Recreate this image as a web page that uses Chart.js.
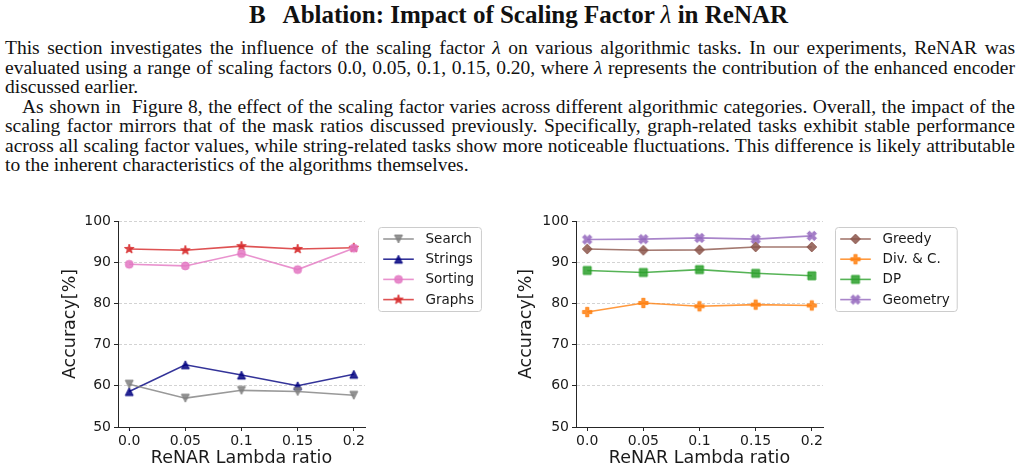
<!DOCTYPE html>
<html><head><meta charset="utf-8">
<script src="https://cdn.jsdelivr.net/npm/chart.js@4.4.1/dist/chart.umd.min.js"></script>
<style>
html,body{margin:0;padding:0;background:#fff;}
body{width:1021px;height:471px;position:relative;overflow:hidden;font-family:"Liberation Serif","Times New Roman",serif;color:#111;}
.title{position:absolute;left:0;top:0px;width:1021px;text-align:center;font-weight:bold;font-size:25px;line-height:30px;padding-left:16px;box-sizing:border-box;white-space:nowrap}
.ln{position:absolute;left:5px;height:20px;line-height:20px;font-size:19.5px;white-space:nowrap;}
.m{font-style:italic;}
canvas{position:absolute;}
</style></head>
<body>
<div class="title"><span style="margin-right:17px">B</span>Ablation: Impact of Scaling Factor <span class="m" style="font-weight:normal">λ</span> in ReNAR</div>
<div class="ln j" data-w="1010" style="top:38px">This section investigates the influence of the scaling factor <span class="m">λ</span> on various algorithmic tasks. In our experiments, ReNAR was</div>
<div class="ln j" data-w="1010" style="top:57.5px">evaluated using a range of scaling factors 0.0, 0.05, 0.1, 0.15, 0.20, where <span class="m">λ</span> represents the contribution of the enhanced encoder</div>
<div class="ln" style="top:77px">discussed earlier.</div>
<div class="ln j" data-w="993" style="top:96.5px;left:22px">As shown in &nbsp;Figure 8, the effect of the scaling factor varies across different algorithmic categories. Overall, the impact of the</div>
<div class="ln j" data-w="1010" style="top:116px">scaling factor mirrors that of the mask ratios discussed previously. Specifically, graph-related tasks exhibit stable performance</div>
<div class="ln j" data-w="1010" style="top:135.5px">across all scaling factor values, while string-related tasks show more noticeable fluctuations. This difference is likely attributable</div>
<div class="ln" style="top:155px">to the inherent characteristics of the algorithms themselves.</div>

<canvas id="c1" width="425" height="266" style="left:60px;top:205px"></canvas>
<canvas id="c2" width="480" height="266" style="left:516px;top:205px"></canvas>

<script>
// ---------- data ----------
const lambdaValues = [0.0, 0.05, 0.1, 0.15, 0.2];
const lambdaLabels = ['0.0', '0.05', '0.1', '0.15', '0.2'];
const yMin = 50, yMax = 100, yStep = 10;

const searchAcc   = [60.4, 57.0, 58.9, 58.6, 57.7];
const stringsAcc  = [58.6, 65.1, 62.6, 60.0, 62.8];
const sortingAcc  = [89.5, 89.1, 92.1, 88.2, 93.4];
const graphsAcc   = [93.2, 92.9, 93.9, 93.2, 93.5];

const greedyAcc   = [93.2, 92.9, 93.0, 93.7, 93.7];
const divConqAcc  = [77.9, 80.1, 79.3, 79.7, 79.5];
const dpAcc       = [88.0, 87.5, 88.2, 87.3, 86.7];
const geometryAcc = [95.5, 95.6, 95.9, 95.6, 96.4];

const leftNames  = ['Search', 'Strings', 'Sorting', 'Graphs'];
const rightNames = ['Greedy', 'Div. & C.', 'DP', 'Geometry'];
const xTitle = 'ReNAR Lambda ratio';
const yTitle = 'Accuracy[%]';

// ---------- justify text lines ----------
document.querySelectorAll('.ln.j').forEach(el => {
  const target = parseFloat(el.dataset.w);
  const natural = el.getBoundingClientRect().width;
  const spaces = (el.textContent.match(/[ \u00a0]/g) || []).length;
  if (spaces) el.style.wordSpacing = ((target - natural) / spaces) + 'px';
});

// ---------- markers ----------
function hexA(hex, a) {
  const n = parseInt(hex.slice(1), 16);
  return `rgba(${(n>>16)&255},${(n>>8)&255},${n&255},${a})`;
}
function markerCanvas(shape, color) {
  const S = 18, c = S / 2;
  const cv = document.createElement('canvas'); cv.width = S; cv.height = S;
  const g = cv.getContext('2d');
  g.fillStyle = hexA(color, 0.85); g.strokeStyle = hexA(color, 0.85);
  g.lineWidth = 1; g.lineJoin = 'miter';
  g.beginPath();
  const poly = (pts, s) => { pts.forEach((p, i) => i ? g.lineTo(c + p[0]*s, c + p[1]*s) : g.moveTo(c + p[0]*s, c + p[1]*s)); g.closePath(); };
  if (shape === 'o') g.arc(c, c, 4.0, 0, Math.PI * 2);
  else if (shape === '^') poly([[0,-1],[1,1],[-1,1]], 4.0);
  else if (shape === 'v') poly([[0,1],[1,-1],[-1,-1]], 4.0);
  else if (shape === 's') poly([[-1,-1],[1,-1],[1,1],[-1,1]], 4.0);
  else if (shape === 'D') poly([[0,-1],[1,0],[0,1],[-1,0]], 4.9);
  else if (shape === '*') {
    const pts = [];
    for (let k = 0; k < 10; k++) {
      const r = k % 2 ? 0.382 : 1, ang = -Math.PI/2 + k * Math.PI/5;
      pts.push([r*Math.cos(ang), r*Math.sin(ang)]);
    }
    poly(pts, 5.0);
  } else if (shape === 'P') {
    poly([[-1,-3],[1,-3],[1,-1],[3,-1],[3,1],[1,1],[1,3],[-1,3],[-1,1],[-3,1],[-3,-1],[-1,-1]], 4.7/3);
  } else if (shape === 'X') {
    poly([[-1,-2],[0,-1],[1,-2],[2,-1],[1,0],[2,1],[1,2],[0,1],[-1,2],[-2,1],[-1,0],[-2,-1]], 4.7/2);
  }
  g.fill(); g.stroke();
  return cv;
}

// ---------- legend plugin ----------
const boxLegend = {
  id: 'boxLegend',
  afterDraw(chart, args, o) {
    const ctx = chart.ctx, a = chart.chartArea;
    const x0 = Math.round(a.right + o.gap) + 0.5, y0 = Math.round(a.top + o.top) + 0.5;
    ctx.save();
    ctx.font = `${o.fontSize}px "DejaVu Sans"`;
    const ds = chart.data.datasets;
    const tw = Math.max(...ds.map(d => ctx.measureText(d.label).width));
    const w = 4.7 + 30.6 + 11.7 + tw + 7.4, h = 84;
    ctx.beginPath();
    ctx.roundRect(x0, y0, w, h, 3);
    ctx.fillStyle = 'rgba(255,255,255,0.8)'; ctx.fill();
    ctx.strokeStyle = '#cccccc'; ctx.lineWidth = 1; ctx.stroke();
    ds.forEach((d, i) => {
      const cy = y0 + 11.5 + i * 20.2;
      ctx.beginPath();
      ctx.strokeStyle = d.borderColor; ctx.lineWidth = d.borderWidth;
      ctx.moveTo(x0 + 4.7, cy); ctx.lineTo(x0 + 35.3, cy); ctx.stroke();
      const img = d.pointStyle;
      ctx.drawImage(img, x0 + 20 - img.width / 2, cy - img.height / 2);
      ctx.fillStyle = '#1a1a1a'; ctx.textBaseline = 'middle'; ctx.textAlign = 'left';
      ctx.fillText(d.label, x0 + 47, cy + 0.5);
    });
    ctx.restore();
  }
};

Chart.defaults.font.family = '"DejaVu Sans"';
Chart.defaults.color = '#1a1a1a';

function makeChart(id, names, valueLists, colors, shapes, yWidth, rightPad, legendGap) {
  const datasets = names.map((n, k) => ({
    label: n,
    data: lambdaValues.map((x, i) => ({ x, y: valueLists[k][i] })),
    borderColor: hexA(colors[k], 0.8),
    backgroundColor: hexA(colors[k], 0.8),
    borderWidth: 1.6,
    pointStyle: markerCanvas(shapes[k], colors[k]),
    pointRadius: 4, pointHoverRadius: 4,
    tension: 0, fill: false
  }));
  return new Chart(document.getElementById(id), {
    type: 'line',
    data: { datasets },
    plugins: [boxLegend],
    options: {
      responsive: false, animation: false, maintainAspectRatio: false,
      events: [],
      layout: { padding: { top: 16, right: rightPad, left: 0, bottom: 0 } },
      plugins: {
        legend: { display: false }, tooltip: { enabled: false },
        boxLegend: { gap: legendGap, top: 6, fontSize: 13.5 }
      },
      scales: {
        x: {
          type: 'linear', min: -0.01, max: 0.21,
          afterBuildTicks: s => { s.ticks = lambdaValues.map(v => ({ value: v })); },
          ticks: { callback: (v, i) => lambdaLabels[i], font: { size: 14 }, padding: 2, maxRotation: 0, autoSkip: false },
          grid: { drawOnChartArea: false, tickLength: 4, tickColor: '#262626', tickWidth: 1 },
          border: { display: true, color: '#262626', width: 1 },
          title: { display: true, text: xTitle, font: { size: 17.5 }, padding: { top: 0, bottom: 2.5 } },
          afterFit: s => { s.height = 44; }
        },
        y: {
          min: yMin, max: yMax,
          ticks: { stepSize: yStep, font: { size: 14 }, padding: 3 },
          grid: {
            color: c => (c.tick && c.tick.value === yMin) ? 'rgba(0,0,0,0)' : 'rgba(176,176,176,0.7)',
            lineWidth: 0.8, tickColor: '#262626', tickLength: 4, tickWidth: 1
          },
          border: { display: true, color: '#262626', width: 1, dash: [3, 2] },
          title: { display: true, text: yTitle, font: { size: 17.5 }, padding: { top: 0, bottom: 0 } },
          afterFit: s => { s.width = yWidth; }
        }
      }
    }
  });
}

makeChart('c1', leftNames, [searchAcc, stringsAcc, sortingAcc, graphsAcc],
  ['#7f7f7f', '#000080', '#e377c2', '#d62728'], ['v', '^', 'o', '*'], 58, 120, 13);
makeChart('c2', rightNames, [greedyAcc, divConqAcc, dpAcc, geometryAcc],
  ['#8c564b', '#ff7f0e', '#2ca02c', '#9467bd'], ['D', 'P', 's', 'X'], 60, 173, 12);
</script>
</body></html>
